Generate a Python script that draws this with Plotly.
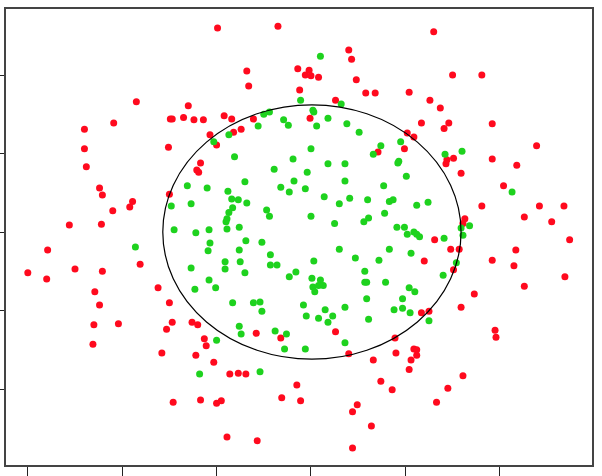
import plotly.graph_objects as go

# Class "outside" (red) points
red_x = [-0.99, -0.35, -0.68, -0.66, -0.14, -0.12, -1.85, -1.30, -2.09, -2.40,
         -1.49, -1.47, -1.35, -1.24, -1.14, -0.92, -0.84, -0.61, -0.74, -0.82,
         -1.07, -1.00, -2.40, -1.51, -2.38, -1.17, -1.21, -1.19, -2.24, -2.21,
         -1.50, -1.89, -1.92, -2.10, -2.56, -2.22, 1.30, 0.40, 0.43, -0.02,
         -0.06, 0.00, 0.08, 0.48, 1.50, 1.81, 0.58, 0.68, 1.04, 0.26,
         1.26, 1.37, -0.01, 1.17, 1.46, 1.41, 1.92, 1.02, 1.09, 0.99,
         0.71, 2.39, 1.51, 1.44, 1.43, 1.92, 2.18, 1.59, 2.04, 1.81,
         2.42, 2.68, 2.26, 2.55, 1.63, 1.61, 1.31, 2.74, -2.79, -3.00,
         -2.80, -2.50, -2.21, -1.81, -2.29, -2.24, -2.30, -2.04, -2.31, -1.62,
         -1.50, -1.47, -1.53, -1.26, -1.20, -1.13, -1.11, -1.58, -1.22, -1.03,
         -0.86, -0.77, -0.69, -0.58, -0.32, -0.15, -1.46, -1.17, -1.00, -0.95,
         -0.31, -0.89, -0.57, -0.11, 1.48, 1.57, 1.20, 1.92, 2.17, 2.15,
         1.51, 2.69, 2.26, 1.73, 1.59, 1.17, 1.25, 0.26, 1.95, 1.96,
         0.89, 0.40, 0.90, 1.09, 1.12, 1.12, 1.06, 0.66, 1.04, 1.61,
         0.74, 0.86, 1.45, 1.33, 0.49, 0.44, 0.64, 0.44]
red_y = [2.60, 2.62, 2.05, 1.86, 2.08, 1.81, 1.66, 1.61, 1.39, 1.31,
         1.44, 1.44, 1.46, 1.43, 1.43, 1.48, 1.44, 1.44, 1.31, 1.27,
         1.24, 1.11, 1.06, 1.08, 0.83, 0.88, 0.79, 0.76, 0.56, 0.47,
         0.48, 0.39, 0.32, 0.27, 0.09, 0.10, 2.55, 2.32, 2.20, 2.06,
         2.00, 1.99, 1.97, 1.94, 2.00, 2.00, 1.77, 1.77, 1.78, 1.68,
         1.68, 1.58, 1.45, 1.39, 1.39, 1.32, 1.38, 1.26, 1.21, 1.06,
         1.02, 1.10, 0.94, 0.92, 0.87, 0.93, 0.85, 0.75, 0.59, 0.33,
         0.33, 0.33, 0.19, 0.13, 0.17, 0.11, -0.10, -0.10, -0.23, -0.52,
         -0.60, -0.47, -0.50, -0.41, -0.76, -0.93, -1.18, -1.17, -1.43, -0.71,
         -0.90, -1.15, -1.24, -1.15, -1.18, -1.36, -1.45, -1.54, -1.57, -1.66,
         -1.81, -1.80, -1.81, -1.29, -1.35, -1.95, -2.17, -2.14, -2.18, -2.15,
         -2.11, -2.61, -2.66, -2.15, -0.22, -0.22, -0.37, -0.36, -0.23, -0.43,
         -0.48, -0.57, -0.69, -0.79, -0.96, -1.03, -1.01, -1.27, -1.25, -1.34,
         -1.35, -1.55, -1.54, -1.49, -1.50, -1.57, -1.63, -1.63, -1.75, -1.83,
         -1.90, -2.01, -1.99, -2.17, -2.20, -2.29, -2.47, -2.75]

# Class "inside" (green) points
green_x = [-0.44, -0.50, -0.29, -0.24, -0.56, -0.87, -1.03, -0.81, -0.19, -0.39,
           -0.18, -0.70, -0.32, -0.23, -1.31, -1.10, -0.88, -0.84, -0.77, -0.68,
           -1.27, -0.83, -0.87, -0.47, -0.44, -1.48, -0.89, -0.90, -0.89, -0.76,
           -1.45, -1.22, -1.08, -0.11, 0.10, 0.32, 0.02, 0.03, 0.18, 0.06,
           0.38, 0.51, 0.00, 0.74, 0.66, 0.95, 1.42, 1.60, 0.18, 0.36,
           0.93, 0.92, -0.04, 0.36, 1.01, -0.06, 0.77, 2.13, 0.14, 0.41,
           0.60, 0.83, 0.87, 0.30, 1.12, 1.24, 0.78, 0.00, 0.25, 0.56,
           0.61, 0.91, 0.99, 1.02, 1.09, 1.12, 1.15, 1.41, 1.59, 1.61,
           1.68, -1.86, -1.07, -1.09, -0.69, -0.52, -0.76, -0.43, -0.91, -0.75,
           -0.43, -0.36, -0.91, -1.27, -0.70, -0.16, -0.23, -1.08, -1.23, -1.01,
           -0.83, -0.61, -0.54, -0.52, -0.76, -0.74, -0.38, -0.26, -0.28, -1.00,
           -1.18, -0.54, 0.30, 0.83, 1.06, 0.03, 0.47, 0.72, 1.54, 0.57,
           0.01, 0.10, 0.08, 0.13, 0.02, 0.04, 0.57, 0.59, 0.79, 1.04,
           1.10, 1.40, 0.59, 0.97, -0.08, 0.36, 0.15, 0.97, 0.88, 1.05,
           -0.05, 0.08, 0.23, 0.18, 0.61, 1.25, 0.36, -0.06]
green_y = [1.53, 1.50, 1.43, 1.36, 1.35, 1.24, 1.15, 0.96, 0.93, 0.80,
           0.65, 0.64, 0.57, 0.51, 0.59, 0.56, 0.52, 0.42, 0.41, 0.37,
           0.36, 0.31, 0.25, 0.28, 0.20, 0.33, 0.17, 0.13, 0.04, 0.06,
           0.03, -0.01, 0.03, 1.68, 2.24, 1.63, 1.55, 1.53, 1.45, 1.35,
           1.38, 1.27, 1.06, 1.10, 0.99, 1.15, 0.99, 1.03, 0.87, 0.87,
           0.90, 0.88, 0.76, 0.65, 0.71, 0.55, 0.59, 0.51, 0.45, 0.43,
           0.41, 0.39, 0.41, 0.36, 0.34, 0.38, 0.24, 0.20, 0.11, 0.13,
           0.18, 0.06, 0.06, -0.03, 0.00, -0.03, -0.06, -0.08, 0.05, -0.04,
           0.08, -0.19, -0.14, -0.24, -0.11, -0.13, -0.23, -0.29, -0.38, -0.38,
           -0.42, -0.42, -0.47, -0.46, -0.52, -0.51, -0.57, -0.61, -0.73, -0.71,
           -0.90, -0.90, -0.89, -1.01, -1.20, -1.30, -1.26, -1.30, -1.49, -1.38,
           -1.81, -1.78, -0.22, -0.22, -0.27, -0.37, -0.33, -0.36, -0.39, -0.50,
           -0.59, -0.61, -0.68, -0.68, -0.70, -0.76, -0.64, -0.64, -0.64, -0.71,
           -0.76, -0.55, -0.85, -0.85, -0.93, -0.96, -0.99, -0.97, -0.99, -1.03,
           -1.07, -1.10, -1.07, -1.15, -1.11, -1.13, -1.41, -1.49]

# Decision boundary ellipse (centre and semi-axes, data units)
ellipse_cx = 0.01
ellipse_cy = 0.0
ellipse_rx = 1.58
ellipse_ry = 1.62

x_ticks = [-3, -2, -1, 0, 1, 2]
y_ticks = [-2, -1, 0, 1, 2]

RED = "#ff0a1e"
GREEN = "#1ed21e"

fig = go.Figure()
fig.add_trace(go.Scatter(x=red_x, y=red_y, mode="markers",
                         marker=dict(color=RED, size=7, line=dict(width=0)),
                         showlegend=False, hoverinfo="x+y"))
fig.add_trace(go.Scatter(x=green_x, y=green_y, mode="markers",
                         marker=dict(color=GREEN, size=7, line=dict(width=0)),
                         showlegend=False, hoverinfo="x+y"))

fig.add_shape(type="circle", xref="x", yref="y",
              x0=ellipse_cx - ellipse_rx, x1=ellipse_cx + ellipse_rx,
              y0=ellipse_cy - ellipse_ry, y1=ellipse_cy + ellipse_ry,
              line=dict(color="black", width=1.2), layer="above")

axis_common = dict(showgrid=False, zeroline=False, showline=True, mirror=True,
                   linecolor="#444444", linewidth=1.5, ticks="outside",
                   tickcolor="#222222", tickwidth=1, showticklabels=False,
                   automargin=False)

fig.update_layout(
    width=602, height=476,
    margin=dict(l=6, r=10, t=9, b=11),
    paper_bgcolor="white", plot_bgcolor="white",
    xaxis=dict(range=[-3.231, 2.977], tickvals=x_ticks, ticklen=12, **axis_common),
    yaxis=dict(range=[-2.968, 2.841], tickvals=y_ticks, ticklen=8, **axis_common),
)

fig.write_html("out.html")
